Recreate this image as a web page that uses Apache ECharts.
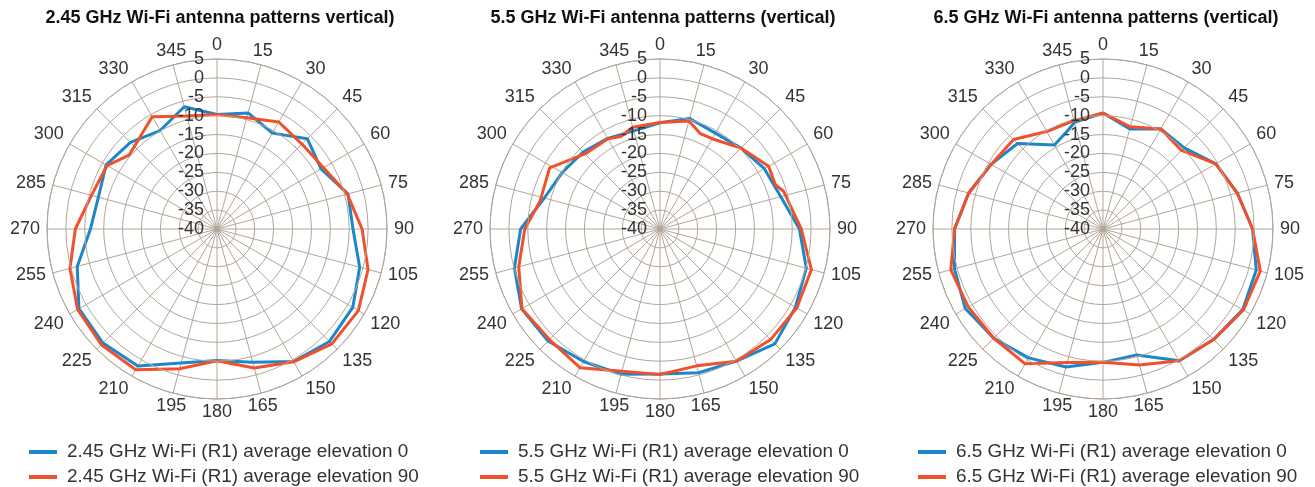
<!DOCTYPE html>
<html>
<head>
<meta charset="utf-8">
<script src="https://cdn.jsdelivr.net/npm/echarts@6/dist/echarts.min.js"></script>
<style>
html,body{margin:0;padding:0;background:#fff;}
#chart{width:1315px;height:487px;}
</style>
</head>
<body>
<div id="chart"></div>
<script>
// ---- Data ----
const titles = [
  '2.45 GHz Wi-Fi antenna patterns vertical)',
  '5.5 GHz Wi-Fi antenna patterns (vertical)',
  '6.5 GHz Wi-Fi antenna patterns (vertical)'
];
const seriesNames = [
  ['2.45 GHz Wi-Fi (R1) average elevation 0', '2.45 GHz Wi-Fi (R1) average elevation 90'],
  ['5.5 GHz Wi-Fi (R1) average elevation 0', '5.5 GHz Wi-Fi (R1) average elevation 90'],
  ['6.5 GHz Wi-Fi (R1) average elevation 0', '6.5 GHz Wi-Fi (R1) average elevation 90']
];
const angleTicks = [0,15,30,45,60,75,90,105,120,135,150,165,180,195,210,225,240,255,270,285,300,315,330,345];
const radiusTicks = [-40,-35,-30,-25,-20,-15,-10,-5,0,5];

// 2.45 GHz
const c1e0Angles = [0,15,30,45,60,75,90,105,120,135,150,165,180,195,210,225,240,255,270,285,300,315,330,345];
const c1e0Values = [-9.7,-8.2,-10.7,-6.2,-8.2,-4.1,-4.0,-0.9,1.5,2.1,0.5,-3.5,-5.2,-3.3,1.9,2.7,2.2,-1.7,-6.5,-7.5,-6.1,-7.6,-9.9,-6.5];
const c1e90Angles = [0,15,30,45,60,75,90,105,120,135,150,165,180,195,210,225,240,255,270,285,300,310,330,345];
const c1e90Values = [-9.7,-9.5,-7.3,-8.2,-7.5,-4.3,-1.6,1.4,3.2,3.0,0.6,-1.9,-5.1,-1.7,3.0,3.3,2.6,0.3,-2.5,-5.6,-6.4,-9.6,-5.7,-9.0];

// 5.5 GHz
const c2e0Angles = [0,15,30,45,60,75,90,105,120,135,150,165,180,195,210,225,240,255,270,285,300,315,330,345];
const c2e0Values = [-11.9,-9.7,-10.7,-9.7,-8.1,-6.9,-3.1,0.1,1.4,3.0,0.4,-0.6,-1.6,-0.2,0.5,1.9,2.3,-0.1,-3.1,-8.3,-10.1,-11.2,-12.3,-13.1];
const c2e90Angles = [0,15,23,30,45,60,69,73,90,105,120,135,150,165,180,195,210,225,240,255,270,283,299,315,330,337,345];
const c2e90Values = [-11.8,-10.4,-12.6,-12.4,-9.7,-6.8,-7.3,-5.8,-2.6,1.5,1.8,1.4,0.4,-2.5,-1.5,-1.0,2.4,1.4,2.2,-1.3,-4.2,-7.4,-6.6,-11.9,-12.4,-13.4,-12.1];

// 6.5 GHz
const c3e0Angles = [0,15,30,45,60,75,90,105,120,135,150,165,180,195,210,225,240,255,270,285,300,315,330,340,345];
const c3e0Values = [-9.3,-12.6,-9.4,-9.6,-5.5,-3.2,-0.4,2.0,2.7,1.4,0.3,-5.5,-4.7,-2.2,-0.6,0.9,2.1,0.7,-0.7,-3.2,-5.8,-8.0,-14.3,-12.4,-10.8];
const c3e90Angles = [0,15,30,45,60,75,90,105,120,135,150,165,180,195,210,225,240,255,270,285,300,315,330,345];
const c3e90Values = [-9.3,-12.0,-9.4,-10.6,-5.5,-3.2,-0.4,3.1,2.9,1.4,0.3,-2.7,-4.7,-3.4,1.2,0.9,1.2,1.7,-0.7,-3.2,-5.8,-6.5,-10.2,-10.3];

const charts = [
  [[c1e0Angles, c1e0Values], [c1e90Angles, c1e90Values]],
  [[c2e0Angles, c2e0Values], [c2e90Angles, c2e90Values]],
  [[c3e0Angles, c3e0Values], [c3e90Angles, c3e90Values]]
];

// ---- Layout / style ----
const centersX = [217, 660, 1103];
const centerY = 229;
const R = 170;
const legendLeft = [29, 480, 918];
const legendTop = [442, 467];
const colors = ['#1b87c9', '#f0502b'];
const gridColor = '#b3a699';
const textColor = '#333333';
const FONT = '"Liberation Sans", Arial, sans-serif';

function closed(angles, values) {
  const d = angles.map((a, i) => [values[i], a]);
  d.push([values[0], 360]);
  return d;
}

const legends = [];
seriesNames.forEach((names, i) => {
  names.forEach((n, j) => {
    legends.push({
      data: [n],
      orient: 'horizontal',
      left: legendLeft[i],
      top: legendTop[j],
      padding: 0,
      itemWidth: 28,
      itemHeight: 4,
      icon: 'rect',
      selectedMode: false,
      textStyle: { fontFamily: FONT, fontSize: 18.9, lineHeight: 20, color: textColor, padding: [0, 0, 0, 5] }
    });
  });
});

const option = {
  animation: false,
  backgroundColor: '#ffffff',
  title: titles.map((t, i) => ({
    text: t,
    left: centersX[i] - 2,
    top: 4,
    textAlign: 'center',
    textStyle: { fontFamily: FONT, fontSize: 18, fontWeight: 'bold', color: '#111' }
  })),
  legend: legends,
  polar: centersX.map(x => ({ center: [x, centerY], radius: R })),
  angleAxis: centersX.map((x, i) => ({
    polarIndex: i,
    type: 'value',
    min: 0,
    max: 360,
    interval: 15,
    startAngle: 90,
    clockwise: true,
    axisLine: { show: true, lineStyle: { color: gridColor, width: 1 } },
    axisTick: { show: false },
    axisLabel: { margin: 7, fontFamily: FONT, fontSize: 18, lineHeight: 13, color: textColor,
      customValues: angleTicks },
    splitLine: { show: true, lineStyle: { color: gridColor, width: 1 } }
  })),
  radiusAxis: centersX.map((x, i) => ({
    polarIndex: i,
    type: 'value',
    min: -40,
    max: 5,
    interval: 5,
    axisLine: { show: false },
    axisTick: { show: false },
    axisLabel: { margin: 13, fontFamily: FONT, fontSize: 18, color: textColor,
      customValues: radiusTicks },
    splitLine: { show: true, lineStyle: { color: gridColor, width: 1 } },
    z: 10
  })),
  series: []
};

charts.forEach((pair, ci) => {
  pair.forEach((s, si) => {
    option.series.push({
      type: 'line',
      name: seriesNames[ci][si],
      coordinateSystem: 'polar',
      polarIndex: ci,
      data: closed(s[0], s[1]),
      symbol: 'none',
      smooth: false,
      lineStyle: { width: 3, color: colors[si] },
      itemStyle: { color: colors[si] },
      z: 3 + si
    });
  });
});

const chart = echarts.init(document.getElementById('chart'), null, { renderer: 'canvas' });
chart.setOption(option);
</script>
</body>
</html>
